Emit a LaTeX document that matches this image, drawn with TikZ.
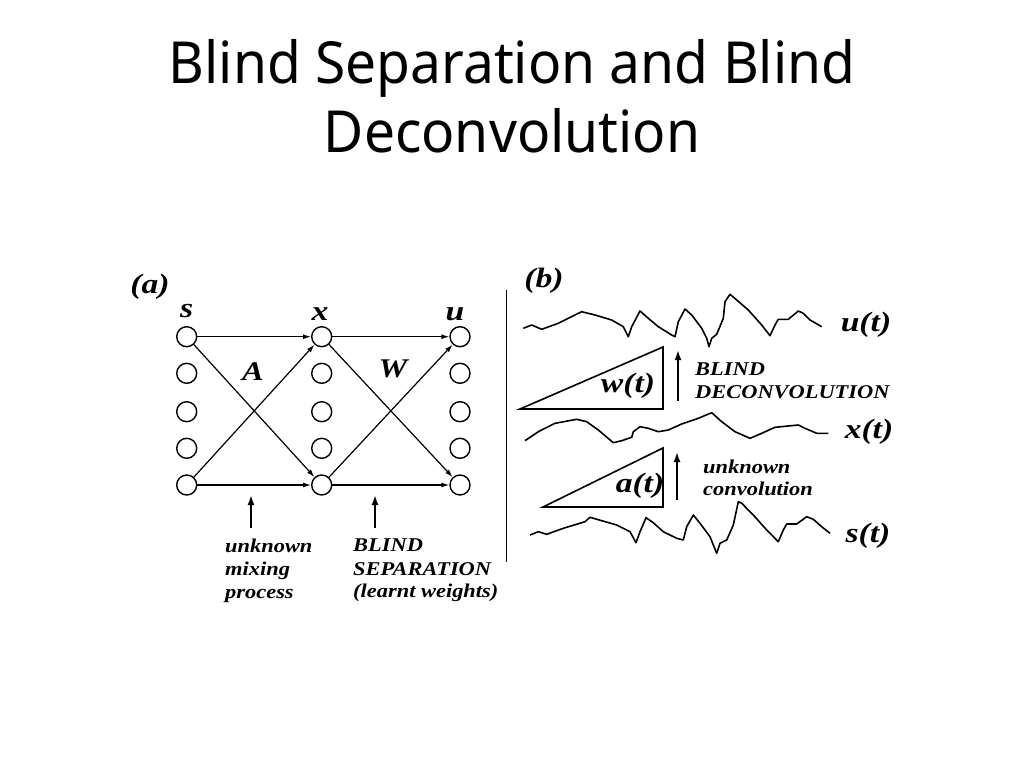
\documentclass[tikz,border=0pt]{standalone}
\usepackage{graphicx}
\usepackage{fontspec}
\newfontfamily\titlefont{Noto Sans}
\newfontfamily\figfont{Liberation Serif}
\newcommand\figwide[2][1.15]{\scalebox{#1}[1]{#2}}
\usetikzlibrary{arrows.meta}
\begin{document}
\begin{tikzpicture}[x=1pt,y=-1pt,
  neuron/.style={circle,draw,line width=1.4pt,minimum size=20pt,inner sep=0pt},
  conn/.style={line width=1.2pt,-{Latex[length=8pt,width=5pt]}},
  uparrow/.style={line width=1.8pt,-{Latex[length=10pt,width=7pt]}},
  lab/.style={font=\fontsize{28}{30}\selectfont\figfont\bfseries\itshape,inner sep=0pt},
  small/.style={font=\fontsize{19.5}{21}\selectfont\figfont\bfseries\itshape,inner sep=0pt,anchor=base west},
  wave/.style={line width=1.6pt,line join=round},
  tri/.style={line width=1.6pt,line join=miter}
]
\useasboundingbox (0,0) rectangle (1024,768);
% title
\node[font=\fontsize{58}{68}\selectfont\titlefont,anchor=base] (t1) at (512,83) {\scalebox{0.95}[1]{Blind Separation and Blind}};
\node[font=\fontsize{58}{68}\selectfont\titlefont,anchor=base] (t2) at (512,152) {\scalebox{0.95}[1]{Deconvolution}};
% panel (a)
\node[lab] (pa) at (150,287) {\figwide[1.2]{(a)}};
\foreach \i/\y in {1/336.7,2/373.3,3/411.7,4/448.3,5/485}{
  \node[neuron] (s\i) at (186.7,\y) {};
  \node[neuron] (x\i) at (321.7,\y) {};
  \node[neuron] (u\i) at (460,\y) {};
}
\node[lab,anchor=base] (ls) at (186.7,317) {\figwide[1.2]{s}};
\node[lab,anchor=base] (lx) at (320,320) {\figwide[1.2]{x}};
\node[lab,anchor=base] (lu) at (455,320) {\figwide[1.2]{u}};
\node[lab,anchor=base,font=\fontsize{27}{29}\selectfont\figfont\bfseries\itshape] (lA) at (253,380) {\figwide[1.2]{A}};
\node[lab,anchor=base,font=\fontsize{27}{29}\selectfont\figfont\bfseries\itshape] (lW) at (393,377) {\figwide[1.2]{W}};
\draw[conn] (s1) -- (x1);
\draw[conn] (s1) -- (x5);
\draw[conn] (s5) -- (x1);
\draw[conn] (s5) -- (x5);
\draw[conn] (x1) -- (u1);
\draw[conn] (x1) -- (u5);
\draw[conn] (x5) -- (u1);
\draw[conn] (x5) -- (u5);
\coordinate (a1b) at (251,528);
\coordinate (a1t) at (251,495);
\coordinate (a2b) at (375,528);
\coordinate (a2t) at (375,495);
\draw[uparrow] (a1b) -- (a1t);
\draw[uparrow] (a2b) -- (a2t);
\node[small] (m1) at (225,552) {\figwide{unknown}};
\node[small] (m2) at (225,575) {\figwide{mixing}};
\node[small] (m3) at (225,598) {\figwide{process}};
\node[small] (b1) at (353,551) {\figwide{BLIND}};
\node[small] (b2) at (353,575) {\figwide{SEPARATION}};
\node[small] (b3) at (353,597) {\figwide{(learnt weights)}};
% separator
\coordinate (v1) at (506.7,290);
\coordinate (v2) at (506.7,562);
\draw[line width=1.4pt] (v1) -- (v2);
% panel (b)
\node[lab] (pb) at (544,281) {\figwide[1.2]{(b)}};
\draw[wave] plot coordinates {(523.3,328.3) (531.7,325) (541.7,329.3) (558.3,323.3) (578.3,313.3) (581.7,311.7) (595,315) (611.7,320) (623.3,326.7) (628.3,336.7) (631.7,326.7) (640,311) (648.3,318.3) (658.3,326.7) (671.7,335) (675,336.7) (678.3,321.7) (685,309) (691.7,315) (701.7,328.3) (706.7,338.3) (709,346.7) (711.7,338.3) (716.7,334.3) (723.3,318.3) (725,301.7) (730,294.3) (736.7,300) (748.3,310) (761.7,325) (770,335.7) (775,325) (778.3,319.3) (788.3,319.3) (798.3,311) (803.3,313.3) (810,320) (821.7,326.7)};
\draw[wave] plot coordinates {(525,440.7) (538.3,431.7) (555,423.3) (576.7,419.3) (586.7,421.7) (598.3,430) (613.3,442.7) (621.7,440.7) (631.7,437.3) (633.3,431.7) (640,426.7) (648.3,428.3) (658.3,431.7) (668.3,430) (681.7,424) (698.3,418.3) (711.7,412.7) (721.7,421.7) (735,431.7) (750,438.3) (761.7,433.3) (775,427.3) (798.3,425) (805,428.3) (816.7,433.3) (828.3,433.3)};
\draw[wave] plot coordinates {(530,535) (538.3,531.7) (546.7,534.3) (563.3,528.3) (585,521.7) (590,517.3) (601.7,520.7) (616.7,525) (630,531.7) (636,542.7) (640,531.7) (646,517.7) (653.3,522.7) (663.3,531.7) (676.7,538.3) (683.3,540) (686.7,526.7) (693.3,515) (700,523.3) (710,536.7) (716.7,553.3) (720,543.3) (726.7,540) (733.3,525) (738.3,501.7) (741.7,503.3) (753.3,515) (766.7,530) (778.3,541.7) (783.3,530) (786.7,524) (796.7,524) (806.7,516.7) (813.3,519.3) (821.7,526.7) (830,533.3)};
\node[lab] (lut) at (866,325) {\figwide[1.2]{u(t)}};
\node[lab] (lxt) at (869,432) {\figwide[1.2]{x(t)}};
\node[lab] (lst) at (868,536) {\figwide[1.2]{s(t)}};
\draw[tri] (520,409) -- (663,409) -- (663,347) -- cycle;
\draw[tri] (543,507) -- (663,507) -- (663,448) -- cycle;
\node[lab] (lwt) at (628,386) {\figwide[1.2]{w(t)}};
\node[lab] (lat) at (640,486) {\figwide[1.2]{a(t)}};
\coordinate (a3b) at (678,401);
\coordinate (a3t) at (678,350);
\coordinate (a4b) at (677,500);
\coordinate (a4t) at (677,452);
\draw[uparrow] (a3b) -- (a3t);
\draw[uparrow] (a4b) -- (a4t);
\node[small] (d1) at (695,375) {\figwide{BLIND}};
\node[small] (d2) at (695,398) {\figwide{DECONVOLUTION}};
\node[small] (c1) at (703,473) {\figwide{unknown}};
\node[small] (c2) at (703,495) {\figwide{convolution}};
\end{tikzpicture}
\end{document}
